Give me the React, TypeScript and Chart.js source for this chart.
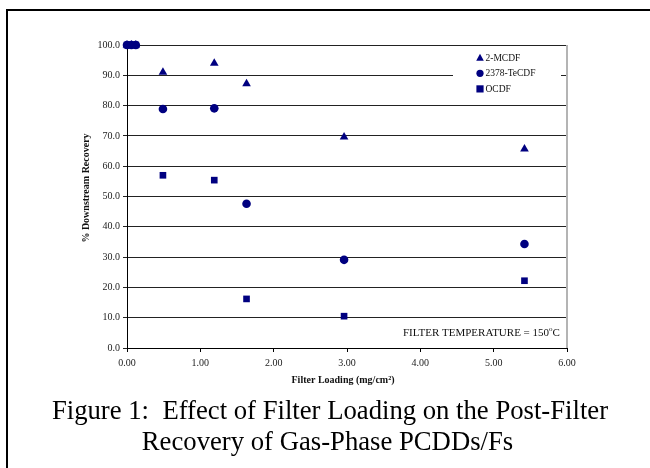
import React, { useEffect, useRef } from "react";
import { Chart, registerables } from "chart.js";

Chart.register(...registerables);

const loadingMCDF = [0, 0.06, 0.12, 0.49, 1.19, 1.63, 2.96, 5.42];
const recoveryMCDF = [100, 100, 100, 91.0, 94.0, 87.2, 69.6, 65.7];
const loadingTeCDF = [0, 0.06, 0.12, 0.49, 1.19, 1.63, 2.96, 5.42];
const recoveryTeCDF = [100, 100, 100, 78.9, 79.1, 47.6, 29.1, 34.3];
const loadingOCDF = [0, 0.06, 0.12, 0.49, 1.19, 1.63, 2.96, 5.42];
const recoveryOCDF = [100, 100, 100, 57.0, 55.4, 16.2, 10.5, 22.2];

const seriesNames = ["2-MCDF", "2378-TeCDF", "OCDF"];
const yTitle = "% Downstream Recovery";
const xTitle = "Filter Loading (mg/cm²)";
const noteText = "FILTER TEMPERATURE = 150";
const captionLines = [
  "Figure 1:  Effect of Filter Loading on the Post-Filter",
  "Recovery of Gas-Phase PCDDs/Fs",
];

const NAVY = "#000080";
const SERIF = "'Liberation Serif', 'Times New Roman', serif";

const toPoints = (xs: number[], ys: number[]) => xs.map((x, i) => ({ x, y: ys[i] }));

const decorPlugin = {
  id: "decor",
  beforeDraw(chart: any) {
    const ctx = chart.ctx;
    ctx.save();
    ctx.fillStyle = "#fff";
    ctx.fillRect(0, 0, chart.width, chart.height);
    ctx.restore();
  },
  afterDraw(chart: any) {
    const ctx = chart.ctx;
    const area = chart.chartArea;
    ctx.save();
    // outer frame
    ctx.fillStyle = "#000";
    ctx.fillRect(6, 9, 2, chart.height - 9);
    ctx.fillRect(6, 9, chart.width - 6, 2);

    // plot area right border (gray)
    ctx.fillStyle = "#b4b4b4";
    ctx.fillRect(area.right - 1, area.top, 2, area.bottom - area.top);

    // legend
    ctx.fillStyle = "#fff";
    ctx.fillRect(453, 49, 108, 50);
    const ds = chart.data.datasets;
    ctx.font = `9.5px ${SERIF}`;
    ctx.textBaseline = "middle";
    ctx.textAlign = "left";
    ds.forEach((d: any, i: number) => {
      const cy = 57.7 + i * 15.6;
      const cx = 480;
      ctx.fillStyle = NAVY;
      ctx.beginPath();
      if (d.pointStyle === "triangle") {
        ctx.moveTo(cx, cy - 4);
        ctx.lineTo(cx + 3.8, cy + 3);
        ctx.lineTo(cx - 3.8, cy + 3);
        ctx.closePath();
      } else if (d.pointStyle === "circle") {
        ctx.arc(cx, cy, 3.6, 0, Math.PI * 2);
      } else {
        ctx.rect(cx - 3.6, cy - 3.6, 7.2, 7.2);
      }
      ctx.fill();
      ctx.fillStyle = "#111";
      ctx.fillText(d.label, 485.5, cy + 0.5);
    });

    // annotation
    ctx.fillStyle = "#111";
    ctx.font = `11px ${SERIF}`;
    ctx.textBaseline = "alphabetic";
    ctx.textAlign = "left";
    const nx = 403;
    const ny = 336;
    ctx.fillText(noteText, nx, ny);
    const w = ctx.measureText(noteText).width;
    ctx.font = `7px ${SERIF}`;
    ctx.fillText("o", nx + w, ny - 5);
    const ow = ctx.measureText("o").width;
    ctx.font = `11px ${SERIF}`;
    ctx.fillText("C", nx + w + ow, ny);

    // axis titles
    ctx.font = `bold 10px ${SERIF}`;
    ctx.textAlign = "center";
    ctx.textBaseline = "middle";
    ctx.fillText(xTitle, 343, 380);
    ctx.save();
    ctx.translate(86.7, 188);
    ctx.rotate(-Math.PI / 2);
    ctx.fillText(yTitle, 0, 0);
    ctx.restore();

    // caption
    ctx.fillStyle = "#000";
    ctx.font = `26.7px ${SERIF}`;
    ctx.textAlign = "center";
    ctx.textBaseline = "middle";
    ctx.fillText(captionLines[0], 330, 412);
    ctx.fillText(captionLines[1], 327.5, 443);
    ctx.restore();
  },
};

export default function App() {
  const ref = useRef<HTMLCanvasElement | null>(null);

  useEffect(() => {
    document.body.style.margin = "0";
    const canvas = ref.current;
    if (!canvas) return;
    const chart = new Chart(canvas, {
      type: "scatter",
      data: {
        datasets: [
          {
            label: seriesNames[0],
            data: toPoints(loadingMCDF, recoveryMCDF),
            pointStyle: "triangle",
            pointRadius: 5,
            backgroundColor: NAVY,
            borderColor: NAVY,
            borderWidth: 0,
            clip: false,
          },
          {
            label: seriesNames[1],
            data: toPoints(loadingTeCDF, recoveryTeCDF),
            pointStyle: "circle",
            pointRadius: 4.3,
            backgroundColor: NAVY,
            borderColor: NAVY,
            borderWidth: 0,
            clip: false,
          },
          {
            label: seriesNames[2],
            data: toPoints(loadingOCDF, recoveryOCDF),
            pointStyle: "rect",
            pointRadius: 4.7,
            backgroundColor: NAVY,
            borderColor: NAVY,
            borderWidth: 0,
            clip: false,
          },
        ],
      },
      plugins: [decorPlugin],
      options: {
        animation: false,
        responsive: false,
        devicePixelRatio: 1,
        layout: { padding: { left: 67, top: 45, right: 83, bottom: 90 } },
        plugins: {
          legend: { display: false },
          tooltip: { enabled: false },
          title: { display: false },
        },
        scales: {
          x: {
            type: "linear",
            min: 0,
            max: 6,
            afterFit: (s: any) => {
              s.height = 30;
            },
            ticks: {
              stepSize: 1,
              padding: 5,
              color: "#222",
              font: { family: SERIF, size: 10 },
              callback: (v: any) => Number(v).toFixed(2),
            },
            grid: {
              drawOnChartArea: false,
              drawTicks: true,
              tickLength: 4,
              color: "#000",
            },
            border: { color: "#000", width: 1 },
          },
          y: {
            min: 0,
            max: 100,
            afterFit: (s: any) => {
              s.width = 60;
            },
            ticks: {
              stepSize: 10,
              padding: 3,
              color: "#222",
              font: { family: SERIF, size: 10 },
              callback: (v: any) => Number(v).toFixed(1),
            },
            grid: {
              color: "#222",
              lineWidth: 1,
              drawTicks: true,
              tickLength: 4,
            },
            border: { color: "#000", width: 1 },
          },
        },
      },
    });
    return () => chart.destroy();
  }, []);

  return (
    <div style={{ width: 650, height: 468 }}>
      <canvas ref={ref} width={650} height={468} style={{ display: "block" }} />
    </div>
  );
}
